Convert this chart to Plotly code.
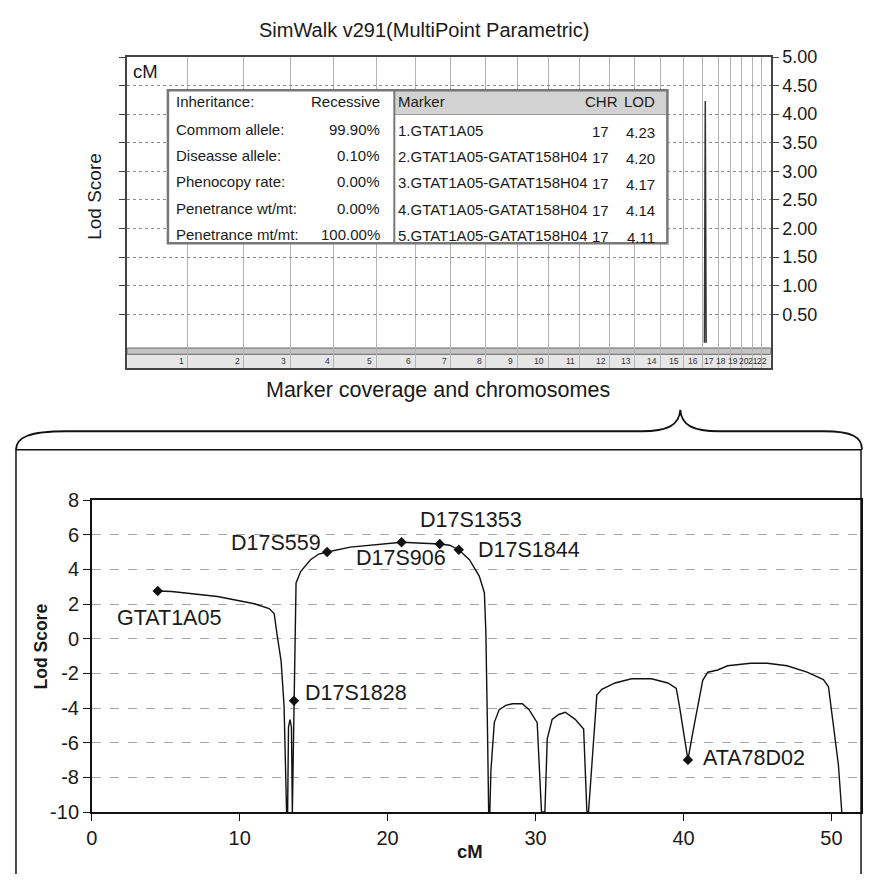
import plotly.graph_objects as go

# page body has an 8px default margin: draw the figure 16px smaller and map the
# reference pixel positions with that offset so the screenshot lines up
OFF = 8
W, H = 872 - 2 * OFF, 882 - 2 * OFF

# ---------------- top panel data (genome-wide scan) ----------------
chromosomes = [str(i) for i in range(1, 23)]
chr_length_cM = [281, 258, 216, 202, 198, 179, 166, 161, 147, 143, 143, 143,
                 115, 120, 106, 87, 74, 55, 55, 51, 41, 41]
right_axis_ticks = [0.5, 1.0, 1.5, 2.0, 2.5, 3.0, 3.5, 4.0, 4.5, 5.0]
peak_chr = 17
spike_pos_in_chr = [10, 14, 18]
spike_lod = [0.0, 4.23, 0.0]

param_labels = ["Inheritance:", "Commom allele:", "Diseasse allele:",
                "Phenocopy rate:", "Penetrance wt/mt:", "Penetrance mt/mt:"]
param_values = ["Recessive", "99.90%", "0.10%", "0.00%", "0.00%", "100.00%"]
table_markers = ["1.GTAT1A05", "2.GTAT1A05-GATAT158H04", "3.GTAT1A05-GATAT158H04",
                 "4.GTAT1A05-GATAT158H04", "5.GTAT1A05-GATAT158H04"]
table_chr = [17, 17, 17, 17, 17]
table_lod = [4.23, 4.20, 4.17, 4.14, 4.11]

# ---------------- bottom panel data (chromosome 17) ----------------
curve_cM = [4.46, 5.40, 8.50, 10.99, 11.99, 12.33, 12.53, 12.80, 13.00, 13.17,
            13.24, 13.30, 13.40, 13.50, 13.56, 13.67, 13.81, 14.12, 14.79, 15.35,
            15.91, 17.48, 19.24, 20.94, 22.40, 23.52, 24.19, 24.81, 25.53, 26.20,
            26.54, 26.64, 26.76, 26.83, 26.91, 26.98, 27.21, 27.54, 27.99, 28.44,
            29.11, 29.56, 30.11, 30.23, 30.40, 30.63, 30.79, 31.12, 31.57, 32.01,
            32.68, 33.25, 33.36, 33.47, 33.58, 33.92, 34.14, 34.48, 35.37, 36.49,
            37.83, 38.95, 39.51, 39.73, 40.07, 40.30, 40.63, 40.97, 41.30, 41.64,
            42.31, 42.98, 44.54, 45.66, 47.00, 48.35, 49.46, 49.80, 50.13, 50.47,
            50.70]
curve_lod = [2.76, 2.73, 2.44, 2.02, 1.74, 1.46, 0.22, -1.29, -3.88, -10.0,
             -10.0, -5.1, -4.67, -5.1, -10.0, -3.58, 3.22, 3.88, 4.56, 4.89,
             5.01, 5.29, 5.42, 5.57, 5.51, 5.47, 5.40, 5.14, 4.56, 3.60,
             2.66, 0.41, -5.78, -10.0, -10.0, -7.65, -4.84, -4.09, -3.84, -3.75,
             -3.75, -4.09, -4.84, -6.69, -10.0, -10.0, -5.78, -4.65, -4.37, -4.24,
             -4.65, -5.21, -7.65, -10.0, -10.0, -5.78, -3.25, -2.92, -2.55, -2.31,
             -2.31, -2.55, -2.87, -3.90, -5.78, -6.99, -5.40, -3.90, -2.40, -1.93,
             -1.80, -1.56, -1.41, -1.41, -1.56, -1.93, -2.36, -2.77, -4.84, -7.27,
             -10.0]
marker_names = ["GTAT1A05", "D17S1828", "D17S559", "D17S906", "D17S1353", "D17S1844", "ATA78D02"]
marker_cM = [4.46, 13.67, 15.91, 20.94, 23.52, 24.81, 40.30]
marker_lod = [2.76, -3.58, 5.01, 5.57, 5.47, 5.14, -6.99]
x_ticks = [0, 10, 20, 30, 40, 50]
y_ticks = [-10, -8, -6, -4, -2, 0, 2, 4, 6, 8]

# label offsets (pixels) relative to each marker
label_shift = {"GTAT1A05": (11, -27), "D17S1828": (62, 8), "D17S559": (-51, 9),
               "D17S906": (-1, -16), "D17S1353": (31, 24), "D17S1844": (70, 0),
               "ATA78D02": (66, 2)}

FONT = "Liberation Sans, Arial, Helvetica, sans-serif"
TXT = "#1a1a1a"
TBL = 15


def px(x):
    return (x - OFF) / W


def py(y):
    return 1 - (y - OFF) / H


def note(x, y, text, size, xa="center", ya="middle", angle=0, color=TXT):
    return dict(xref="paper", yref="paper", x=px(x), y=py(y), text=text, showarrow=False,
                xanchor=xa, yanchor=ya, textangle=angle,
                font=dict(size=size, color=color, family=FONT))


# cumulative chromosome boundaries
bounds = [0]
for L in chr_length_cM:
    bounds.append(bounds[-1] + L)
total = bounds[-1]
peak_off = bounds[peak_chr - 1]

fig = go.Figure()

fig.add_trace(go.Scatter(x=[peak_off + p for p in spike_pos_in_chr], y=spike_lod,
                         mode="lines", line=dict(color="#333", width=1.5),
                         xaxis="x2", yaxis="y2", showlegend=False, hoverinfo="skip"))
fig.add_trace(go.Scatter(x=curve_cM, y=curve_lod, mode="lines",
                         line=dict(color="#111", width=1.4), showlegend=False))
fig.add_trace(go.Scatter(x=marker_cM, y=marker_lod, mode="markers",
                         marker=dict(symbol="diamond", size=8, color="#111"),
                         showlegend=False))

shapes = []
annotations = []

# band and label row in top panel
shapes.append(dict(type="rect", xref="x2", yref="y2", x0=0, x1=total, y0=-0.2, y1=-0.438,
                   fillcolor="#e6e6e6", line=dict(width=0), layer="below"))
shapes.append(dict(type="rect", xref="x2", yref="y2", x0=0, x1=total, y0=-0.09, y1=-0.2,
                   fillcolor="#c4c4c4", line=dict(color="#666", width=1), layer="below"))
for i, c in enumerate(chromosomes):
    annotations.append(dict(xref="x2", yref="y2", x=bounds[i + 1], y=-0.32, text=c,
                            showarrow=False, xanchor="right", yanchor="middle", xshift=-2,
                            font=dict(size=8.5, color="#333", family=FONT)))

# table
T = dict(x0=163, x1=666, y0=81, y1=238, xd=391, yh=106)
shapes.append(dict(type="rect", xref="paper", yref="paper", x0=px(T["x0"]), x1=px(T["x1"]),
                   y0=py(T["y1"]), y1=py(T["y0"]), fillcolor="white", line=dict(width=0),
                   layer="above"))
shapes.append(dict(type="rect", xref="paper", yref="paper", x0=px(T["xd"]), x1=px(T["x1"]),
                   y0=py(T["yh"]), y1=py(T["y0"]), fillcolor="#d2d2d2", line=dict(width=0),
                   layer="above"))
shapes.append(dict(type="line", xref="paper", yref="paper", x0=px(T["xd"]), x1=px(T["x1"]),
                   y0=py(T["yh"]), y1=py(T["yh"]), line=dict(color="#999", width=1), layer="above"))
shapes.append(dict(type="line", xref="paper", yref="paper", x0=px(T["xd"]), x1=px(T["xd"]),
                   y0=py(T["y1"]), y1=py(T["y0"]), line=dict(color="#777", width=2), layer="above"))
shapes.append(dict(type="rect", xref="paper", yref="paper", x0=px(T["x0"]), x1=px(T["x1"]),
                   y0=py(T["y1"]), y1=py(T["y0"]), line=dict(color="#777", width=2.5),
                   layer="above"))

row_y = [93, 121, 148, 175, 202, 229]
for i, (lab, val) in enumerate(zip(param_labels, param_values)):
    annotations.append(note(169, row_y[i], lab, TBL, xa="left"))
    annotations.append(note(379, row_y[i], val, TBL, xa="right"))
annotations.append(note(393, row_y[0], "Marker", TBL, xa="left"))
annotations.append(note(618, row_y[0], "CHR", TBL, xa="right"))
annotations.append(note(656, row_y[0], "LOD", TBL, xa="right"))
for i, (m, c, l) in enumerate(zip(table_markers, table_chr, table_lod)):
    yy = row_y[i + 1]
    annotations.append(note(393, yy + 1, m, TBL, xa="left"))
    annotations.append(note(609, yy + 2, str(c), TBL, xa="right"))
    annotations.append(note(656, yy + 3, "%.2f" % l, TBL, xa="right"))

# top-panel texts
annotations.append(note(421, 19, "SimWalk v291(MultiPoint Parametric)", 20))
annotations.append(note(126, 62, "cM", 18.5, xa="left"))
annotations.append(note(89, 190, "Lod Score", 19, angle=-90))
annotations.append(note(435, 389, "Marker coverage and chromosomes", 21.5))

# brace + bottom panel frame
brace_pts = "M 10,450 C 10,437 24,431 60,431 L 640,431 C 666,431 678,425 679,409 " \
            "C 680,425 692,431 718,431 L 824,431 C 852,431 862,437 862,450"


def to_paper_path(p):
    out = []
    for tok in p.split():
        if "," in tok:
            a, b = tok.split(",")
            out.append("%.5f,%.5f" % (px(float(a)), py(float(b))))
        else:
            out.append(tok)
    return " ".join(out)


shapes.append(dict(type="path", xref="paper", yref="paper", path=to_paper_path(brace_pts),
                   line=dict(color="#111", width=1.8)))
shapes.append(dict(type="rect", xref="paper", yref="paper", x0=px(10), x1=px(861),
                   y0=-0.05, y1=py(450), line=dict(color="#111", width=1.5)))

# bottom-panel labels
for n, x, y in zip(marker_names, marker_cM, marker_lod):
    dx, dy = label_shift[n]
    annotations.append(dict(x=x, y=y, xref="x", yref="y", text=n, showarrow=False,
                            xanchor="center", yanchor="middle", xshift=dx, yshift=dy,
                            font=dict(size=21.5, color=TXT, family=FONT)))
annotations.append(note(35, 652, "<b>Lod Score</b>", 17.5, angle=-90))
annotations.append(note(467, 862, "<b>cM</b>", 18.5))

fig.update_layout(
    width=W, height=H, margin=dict(l=0, r=0, t=0, b=0),
    paper_bgcolor="white", plot_bgcolor="white",
    font=dict(family=FONT, color=TXT),
    shapes=shapes, annotations=annotations,
    xaxis=dict(domain=[px(86.3), px(861)], range=[0, 52], tickvals=x_ticks,
               ticks="outside", ticklen=7, tickcolor="#111", showline=True, linecolor="#111",
               linewidth=1.5, mirror=True, showgrid=False, zeroline=False,
               tickfont=dict(size=20, color=TXT, family=FONT), anchor="y"),
    yaxis=dict(domain=[py(821.7), py(501.7)], range=[-10, 8], tickvals=y_ticks,
               ticktext=[str(v) for v in y_ticks], ticks="outside", ticklen=7, tickcolor="#111",
               showline=True, linecolor="#111", linewidth=1.5, mirror=True,
               showgrid=True, gridcolor="#a6a6a6", griddash="dash", gridwidth=1,
               zeroline=False, tickfont=dict(size=20, color=TXT, family=FONT), anchor="x"),
    xaxis2=dict(domain=[px(122), px(770)], range=[0, total], tickvals=bounds[1:-1],
                showticklabels=False, ticks="", showgrid=True, gridcolor="#b3b3b3",
                gridwidth=1, showline=True, linecolor="#444", linewidth=2, mirror=True,
                zeroline=False, anchor="y2"),
    yaxis2=dict(domain=[py(366), py(47)], range=[-0.438, 5.0], tickvals=right_axis_ticks,
                ticktext=["%.2f" % v for v in right_axis_ticks], side="right",
                ticks="outside", ticklen=6, tickcolor="#444", showline=True,
                linecolor="#444", linewidth=2, mirror="ticks", showgrid=True,
                gridcolor="#8c8c8c", griddash="dot", gridwidth=1, zeroline=False,
                tickfont=dict(size=18, color=TXT, family=FONT), anchor="x2"),
)

fig.write_html("out.html")
